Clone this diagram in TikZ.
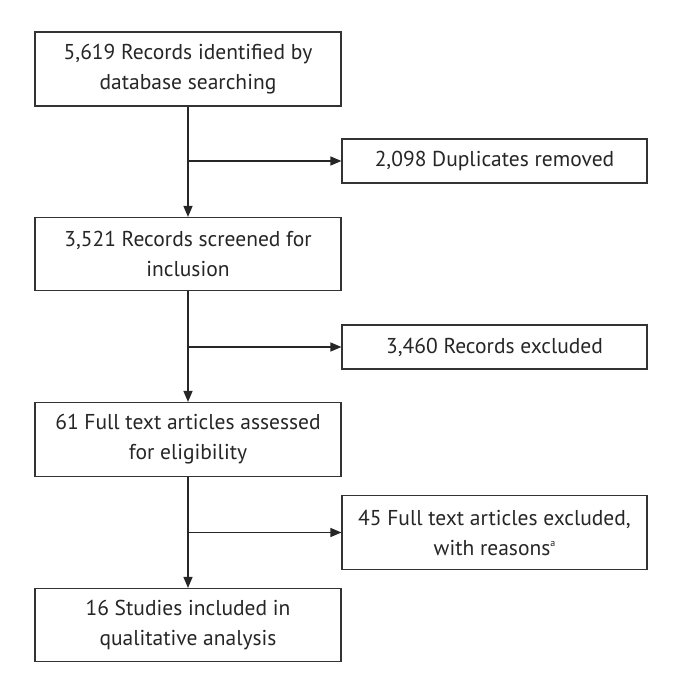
\documentclass[tikz,border=0pt]{standalone}
\usepackage{fontspec}
\setmainfont{PT Sans}
\usetikzlibrary{arrows.meta}
\begin{document}
\begin{tikzpicture}[x=1pt,y=1pt,
  box/.style={draw=black!80, line width=1.1pt, fill=white, inner sep=0pt, align=center,
    font=\fontsize{21.5}{30}\selectfont, text=black!85},
  conn/.style={line width=1.3pt, draw=black!85, -{Triangle[length=11pt,width=9pt]}}]
\useasboundingbox (0,0) rectangle (678,678);
% left column: x 35..341
\node[box, minimum width=306pt, minimum height=74pt] (b1) at (188,609) {5,619 Records identified by\\database searching};
\node[box, minimum width=306pt, minimum height=73pt] (b2) at (188,424) {3,521 Records screened for\\inclusion};
\node[box, minimum width=306pt, minimum height=74pt] (b3) at (188,238.5) {61 Full text articles assessed\\for eligibility};
\node[box, minimum width=306pt, minimum height=73pt] (b4) at (188,53) {16 Studies included in\\qualitative analysis};
% right column: x 342..647
\node[box, minimum width=305pt, minimum height=44pt] (r1) at (494.5,517) {2,098 Duplicates removed};
\node[box, minimum width=305pt, minimum height=44pt] (r2) at (494.5,331) {3,460 Records excluded};
\node[box, minimum width=305pt, minimum height=74pt] (r3) at (494.5,145.5) {45 Full text articles excluded,\\with reasons\raisebox{9pt}{\fontsize{10}{10}\selectfont a}};
\coordinate (j1) at (b1.south |- r1.west);
\coordinate (j2) at (b2.south |- r2.west);
\coordinate (j3) at (b3.south |- r3.west);
\draw[conn] (b1.south) -- (b2.north);
\draw[conn] (b2.south) -- (b3.north);
\draw[conn] (b3.south) -- (b4.north);
\draw[conn] (j1) -- (r1.west);
\draw[conn] (j2) -- (r2.west);
\draw[conn] (j3) -- (r3.west);
\end{tikzpicture}
\end{document}
